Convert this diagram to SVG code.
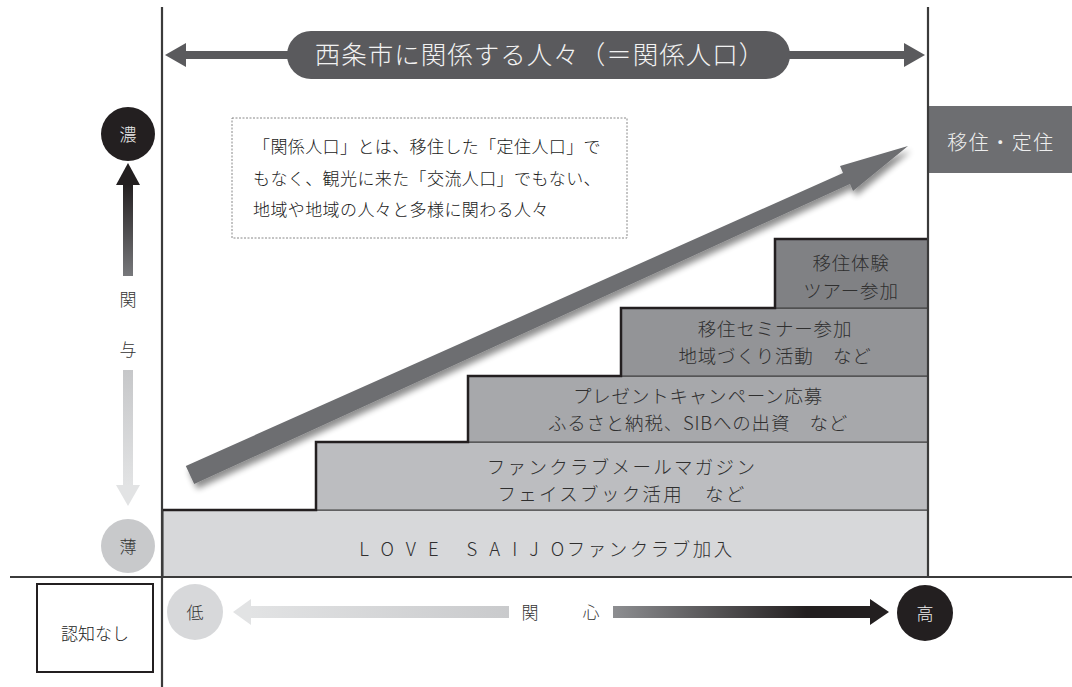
<svg xmlns="http://www.w3.org/2000/svg" width="1072" height="687" viewBox="0 0 1072 687">
  <style>
    text { font-family: "Noto Sans CJK JP", "Noto Sans", sans-serif; fill: #333; font-weight: 300; }
    .step { stroke: #3a3a3a; stroke-width: 1; }
    .axis { stroke: #3b3b3b; stroke-width: 2.2; fill: none; }
    .st { font-size: 18.5px; text-anchor: middle; fill: #2f2f2f; letter-spacing: 0.8px; }
    .lbl { font-size: 17px; fill: #1a1a1a; }
    .circ { font-size: 17px; text-anchor: middle; }
  </style>
  <defs>
    <linearGradient id="gUp" x1="0" y1="0" x2="0" y2="1">
      <stop offset="0" stop-color="#231f20"/>
      <stop offset="1" stop-color="#77787b"/>
    </linearGradient>
    <linearGradient id="gDown" x1="0" y1="0" x2="0" y2="1">
      <stop offset="0" stop-color="#c6c7c9"/>
      <stop offset="1" stop-color="#e2e3e4"/>
    </linearGradient>
    <linearGradient id="gLeft" x1="0" y1="0" x2="1" y2="0">
      <stop offset="0" stop-color="#e2e3e4"/>
      <stop offset="1" stop-color="#c9cacc"/>
    </linearGradient>
    <linearGradient id="gRight" x1="0" y1="0" x2="1" y2="0">
      <stop offset="0" stop-color="#8d8e91"/>
      <stop offset="0.75" stop-color="#231f20"/>
      <stop offset="1" stop-color="#231f20"/>
    </linearGradient>
    <filter id="shadow" x="-10%" y="-20%" width="120%" height="140%">
      <feGaussianBlur in="SourceAlpha" stdDeviation="3"/>
      <feOffset dx="3" dy="5" result="b"/>
      <feComponentTransfer><feFuncA type="linear" slope="0.45"/></feComponentTransfer>
      <feMerge><feMergeNode/><feMergeNode in="SourceGraphic"/></feMerge>
    </filter>
  </defs>

  <rect width="1072" height="687" fill="#fff"/>

  <!-- steps -->
  <g id="step1"><rect class="step" x="163" y="510" width="765" height="67" fill="#d7d8da"/>
    <text class="st" x="547" y="556" font-size="21.5" style="letter-spacing:0"><tspan letter-spacing="12">LOVE SAIJ</tspan><tspan letter-spacing="2.5">Oファンクラブ加入</tspan></text></g>
  <g id="step2"><rect class="step" x="316" y="442" width="612" height="68" fill="#bcbdc0"/>
    <text class="st" x="622" y="474" font-size="21" style="letter-spacing:2.3px">ファンクラブメールマガジン</text>
    <text class="st" x="622" y="501" font-size="21" style="letter-spacing:2.3px">フェイスブック活用　など</text></g>
  <g id="step3"><rect class="step" x="468" y="376" width="460" height="66" fill="#a7a8ab"/>
    <text class="st" x="698" y="403">プレゼントキャンペーン応募</text>
    <text class="st" x="698" y="430">ふるさと納税、SIBへの出資　など</text></g>
  <g id="step4"><rect class="step" x="621" y="308" width="307" height="68" fill="#939497"/>
    <text class="st" x="775" y="336">移住セミナー参加</text>
    <text class="st" x="775" y="363">地域づくり活動　など</text></g>
  <g id="step5"><rect class="step" x="775" y="239" width="153" height="69" fill="#808184"/>
    <text class="st" x="851" y="270">移住体験</text>
    <text class="st" x="851" y="298">ツアー参加</text></g>
  <path d="M163 510 H316 V442 H468 V376 H621 V308 H775 V239 H928" fill="none" stroke="#231f20" stroke-width="2.5"/>

  <g id="teiju"><rect x="928" y="106" width="144" height="67" fill="#6d6e71"/>
    <text x="1001" y="150" font-size="20" text-anchor="middle" style="fill:#eee" letter-spacing="1.5">移住・定住</text></g>

  <!-- axes -->
  <g id="axes">
    <line class="axis" x1="162" y1="7" x2="162" y2="687"/>
    <line class="axis" x1="928" y1="7" x2="928" y2="577"/>
    <line class="axis" x1="10" y1="577" x2="1072" y2="577"/>
  </g>

  <!-- connectors -->
  <g id="connectors">
    <line x1="182" y1="55" x2="906" y2="55" stroke="#5a5a5d" stroke-width="8"/>
    <polygon points="165,55 186,43 186,67" fill="#5a5a5d"/>
    <polygon points="925,55 904,43 904,67" fill="#5a5a5d"/>
    <polygon filter="url(#shadow)" fill="#6d6e71" points="185.8,465.9 194.2,484.1 850,184 853,191 908,146 840,166 843,173"/>
    <rect x="123" y="184" width="10" height="92" fill="url(#gUp)"/>
    <polygon points="128,163 116,185 140,185" fill="#231f20"/>
    <rect x="123" y="370" width="10" height="116" fill="url(#gDown)"/>
    <polygon points="128,506 116,485 140,485" fill="#e2e3e4"/>
    <rect x="249" y="606" width="260" height="12" fill="url(#gLeft)"/>
    <polygon points="233,612 251,599 251,625" fill="#e2e3e4"/>
    <rect x="613" y="606" width="258" height="12" fill="url(#gRight)"/>
    <polygon points="889,612 870,599 870,625" fill="#231f20"/>
  </g>

  <g id="title">
    <rect x="287" y="31" width="503" height="48" rx="24" fill="#5a5a5d"/>
    <text x="540" y="64" font-size="25.5" text-anchor="middle" style="fill:#f2f2f2" letter-spacing="1">西条市に関係する人々（＝関係人口）</text>
  </g>

  <g id="definition">
    <rect x="232" y="118" width="395" height="120" fill="#fff" stroke="#888" stroke-width="1" stroke-dasharray="2,1.5"/>
    <text class="lbl" x="253" y="153" letter-spacing="0.4">「関係人口」とは、移住した「定住人口」で</text>
    <text class="lbl" x="253" y="185" letter-spacing="0.4">もなく、観光に来た「交流人口」でもない、</text>
    <text class="lbl" x="253" y="216" letter-spacing="0.4">地域や地域の人々と多様に関わる人々</text>
  </g>

  <g id="koi"><circle cx="128" cy="134" r="27" fill="#231f20"/>
    <text class="circ" x="128" y="141" style="fill:#eee">濃</text></g>
  <g id="usui"><circle cx="128" cy="546" r="27" fill="#c8c9cb"/>
    <text class="circ" x="128" y="553">薄</text></g>
  <g id="kanyo">
    <text class="circ" x="128" y="306">関</text>
    <text class="circ" x="128" y="356">与</text>
  </g>

  <g id="ninchi"><rect x="37" y="584" width="116" height="88" fill="#fff" stroke="#231f20" stroke-width="2"/>
    <text class="lbl" x="95" y="640" text-anchor="middle" font-size="16">認知なし</text></g>
  <g id="low"><circle cx="195" cy="612" r="28" fill="#d7d8da"/>
    <text class="circ" x="195" y="619">低</text></g>
  <g id="kanshin">
    <text class="circ" x="530" y="619">関</text>
    <text class="circ" x="591" y="619">心</text>
  </g>
  <g id="high"><circle cx="925" cy="613" r="28" fill="#231f20"/>
    <text class="circ" x="925" y="620" style="fill:#eee">高</text></g>
</svg>
